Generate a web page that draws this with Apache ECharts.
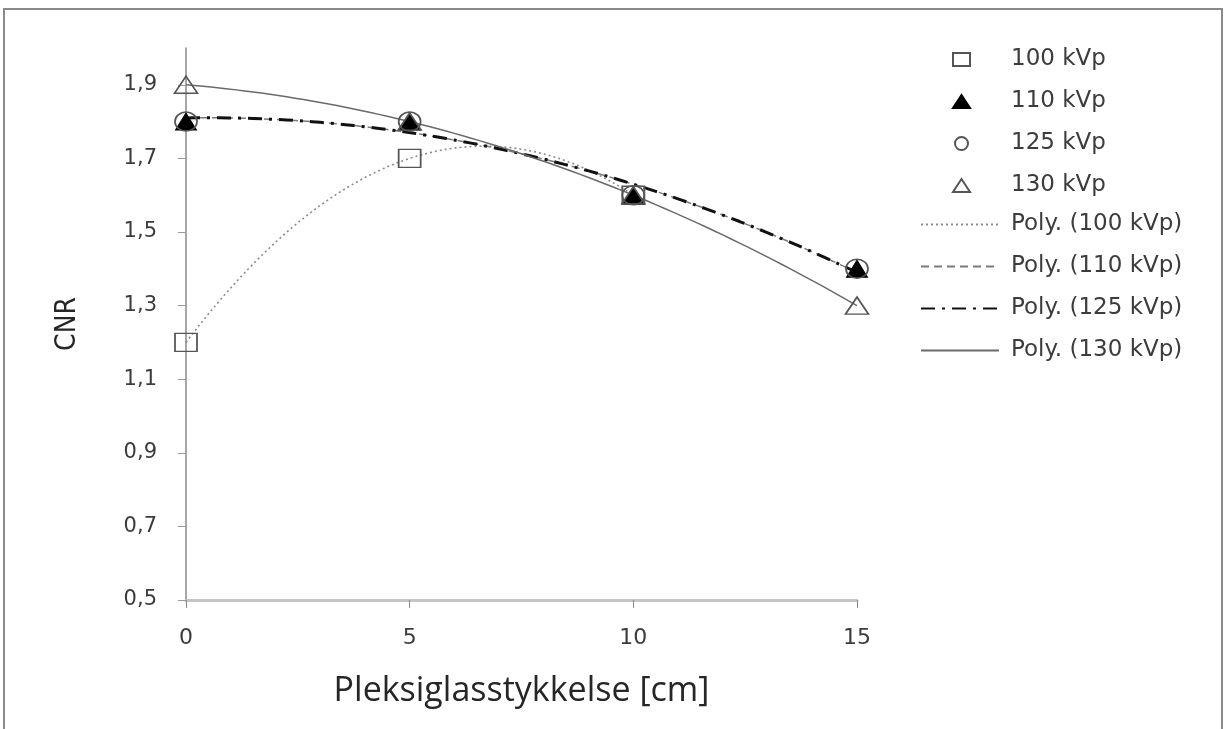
<!DOCTYPE html>
<html>
<head>
<meta charset="utf-8">
<script src="https://cdn.jsdelivr.net/npm/echarts@6/dist/echarts.min.js"></script>
<style>
html,body{margin:0;padding:0;background:#fff;}
#chart{width:1225px;height:729px;}
</style>
</head>
<body>
<div id="chart"></div>
<script>
// ---- data ----
const thickness = [0, 5, 10, 15];           // Pleksiglasstykkelse [cm]
const cnr100 = [1.2, 1.7, 1.6, null];       // 100 kVp (no point at 15)
const cnr110 = [1.8, 1.8, 1.6, 1.4];        // 110 kVp
const cnr125 = [1.8, 1.8, 1.6, 1.4];        // 125 kVp
const cnr130 = [1.9, 1.8, 1.6, 1.3];        // 130 kVp
const seriesNames = ['100 kVp', '110 kVp', '125 kVp', '130 kVp'];
const trendNames = ['Poly. (100 kVp)', 'Poly. (110 kVp)', 'Poly. (125 kVp)', 'Poly. (130 kVp)'];
const yTicks = [0.5, 0.7, 0.9, 1.1, 1.3, 1.5, 1.7, 1.9];
const xTicks = [0, 5, 10, 15];

// ---- helpers ----
function pairs(xs, ys) {
  const out = [];
  xs.forEach((x, i) => { if (ys[i] != null) out.push([x, ys[i]]); });
  return out;
}
// least-squares polynomial trendline (order 2), like the spreadsheet's "Poly." trendline
function polyTrend(pts, deg, steps) {
  const n = deg + 1;
  const A = [], B = [];
  for (let r = 0; r < n; r++) {
    A.push(new Array(n).fill(0)); B.push(0);
  }
  pts.forEach(([x, y]) => {
    for (let r = 0; r < n; r++) {
      for (let c = 0; c < n; c++) A[r][c] += Math.pow(x, r + c);
      B[r] += y * Math.pow(x, r);
    }
  });
  for (let i = 0; i < n; i++) {
    let p = i;
    for (let k = i + 1; k < n; k++) if (Math.abs(A[k][i]) > Math.abs(A[p][i])) p = k;
    [A[i], A[p]] = [A[p], A[i]]; [B[i], B[p]] = [B[p], B[i]];
    for (let k = i + 1; k < n; k++) {
      const f = A[k][i] / A[i][i];
      for (let c = i; c < n; c++) A[k][c] -= f * A[i][c];
      B[k] -= f * B[i];
    }
  }
  const coef = new Array(n).fill(0);
  for (let i = n - 1; i >= 0; i--) {
    let s = B[i];
    for (let c = i + 1; c < n; c++) s -= A[i][c] * coef[c];
    coef[i] = s / A[i][i];
  }
  const xmin = Math.min(...pts.map(p => p[0])), xmax = Math.max(...pts.map(p => p[0]));
  const out = [];
  for (let s = 0; s <= steps; s++) {
    const x = xmin + (xmax - xmin) * s / steps;
    let y = 0;
    coef.forEach((cf, i) => { y += cf * Math.pow(x, i); });
    out.push([x, y]);
  }
  return out;
}

const p100 = pairs(thickness, cnr100);
const p110 = pairs(thickness, cnr110);
const p125 = pairs(thickness, cnr125);
const p130 = pairs(thickness, cnr130);

const labelFont = 'DejaVu Sans, Verdana, sans-serif';
const textColor = '#3c3c3c';

const chart = echarts.init(document.getElementById('chart'));
chart.setOption({
  animation: false,
  backgroundColor: '#ffffff',
  graphic: [{
    type: 'rect', silent: true, z: -10,
    shape: { x: 4, y: 9, width: 1218, height: 780 },
    style: { fill: 'none', stroke: '#8a8a8a', lineWidth: 2 }
  }],
  grid: { left: 186, right: 368, top: 48, bottom: 129, containLabel: false },
  xAxis: {
    type: 'value', min: 0, max: 15, interval: 5,
    name: 'Pleksiglasstykkelse [cm]', nameLocation: 'middle', nameGap: 74,
    nameTextStyle: { fontFamily: 'Open Sans, sans-serif', fontSize: 34, color: '#262626' },
    axisLine: { show: true, onZero: false, lineStyle: { color: '#c4c4c4', width: 3 } },
    axisTick: { show: true, inside: false, length: 8, lineStyle: { color: '#8a8a8a' }, customValues: xTicks },
    axisLabel: { margin: 27, fontFamily: labelFont, fontSize: 22, color: textColor, customValues: xTicks },
    splitLine: { show: false }
  },
  yAxis: {
    type: 'value', min: 0.5, max: 2.0,
    name: 'CNR', nameLocation: 'middle', nameGap: 104, nameRotate: 90,
    nameTextStyle: { fontFamily: 'Liberation Sans Narrow, DejaVu Sans Condensed, sans-serif', fontSize: 28, color: '#262626' },
    axisLine: { show: true, lineStyle: { color: '#8a8a8a', width: 1.5 } },
    axisTick: { show: true, inside: false, length: 8, lineStyle: { color: '#9a9a9a' }, customValues: yTicks },
    axisLabel: {
      margin: 29, fontFamily: labelFont, fontSize: 21, color: textColor, customValues: yTicks,
      formatter: v => v.toFixed(1).replace('.', ',')
    },
    splitLine: { show: false }
  },
  legend: [{
    orient: 'vertical', left: 952, top: 48, padding: 0, itemGap: 19,
    itemWidth: 17, itemHeight: 13,
    data: seriesNames,
    textStyle: { fontFamily: labelFont, fontSize: 23, color: textColor, lineHeight: 22, padding: [0, 0, 0, 36] }
  }, {
    orient: 'vertical', left: 920, top: 213, padding: 0, itemGap: 19,
    itemWidth: 78, itemHeight: 13,
    itemStyle: { color: 'rgba(0,0,0,0)', borderColor: 'rgba(0,0,0,0)', borderWidth: 0, opacity: 0 },
    data: trendNames,
    textStyle: { fontFamily: labelFont, fontSize: 23, color: textColor, lineHeight: 22, padding: [0, 0, 0, 7] }
  }],
  series: [
    { name: trendNames[0], type: 'line', data: polyTrend(p100, 2, 80), showSymbol: false, symbol: 'none',
      itemStyle: { color: '#8c8c8c' },
      lineStyle: { color: '#8c8c8c', width: 1.6, type: [2, 3] }, z: 2 },
    { name: trendNames[1], type: 'line', data: polyTrend(p110, 2, 80), showSymbol: false, symbol: 'none',
      itemStyle: { color: '#7a7a7a' },
      lineStyle: { color: '#7a7a7a', width: 1.5, type: [8, 5] }, z: 2 },
    { name: trendNames[2], type: 'line', data: polyTrend(p125, 2, 80), showSymbol: false, symbol: 'none',
      itemStyle: { color: '#111111' },
      lineStyle: { color: '#111111', width: 3, type: [14, 7, 3, 7] }, z: 2 },
    { name: trendNames[3], type: 'line', data: polyTrend(p130, 2, 80), showSymbol: false, symbol: 'none',
      itemStyle: { color: '#6a6a6a' },
      lineStyle: { color: '#6a6a6a', width: 1.5, type: 'solid' }, z: 2 },
    { name: seriesNames[0], type: 'scatter', data: p100, symbol: 'rect', symbolSize: [22, 18],
      itemStyle: { color: 'rgba(255,255,255,0)', borderColor: '#555555', borderWidth: 1.6, opacity: 1 }, z: 3 },
    { name: seriesNames[1], type: 'scatter', data: p110, symbol: 'triangle', symbolSize: [21, 17],
      itemStyle: { color: '#000000', borderColor: '#000000', borderWidth: 1, opacity: 1 }, z: 3 },
    { name: seriesNames[2], type: 'scatter', data: p125, symbol: 'circle', symbolSize: [22, 19],
      itemStyle: { color: 'rgba(255,255,255,0)', borderColor: '#555555', borderWidth: 1.6, opacity: 1 }, z: 4 },
    { name: seriesNames[3], type: 'scatter', data: p130, symbol: 'triangle', symbolSize: [23, 17],
      itemStyle: { color: 'rgba(255,255,255,0)', borderColor: '#555555', borderWidth: 1.6, opacity: 1 }, z: 4 }
  ]
});
</script>
</body>
</html>
